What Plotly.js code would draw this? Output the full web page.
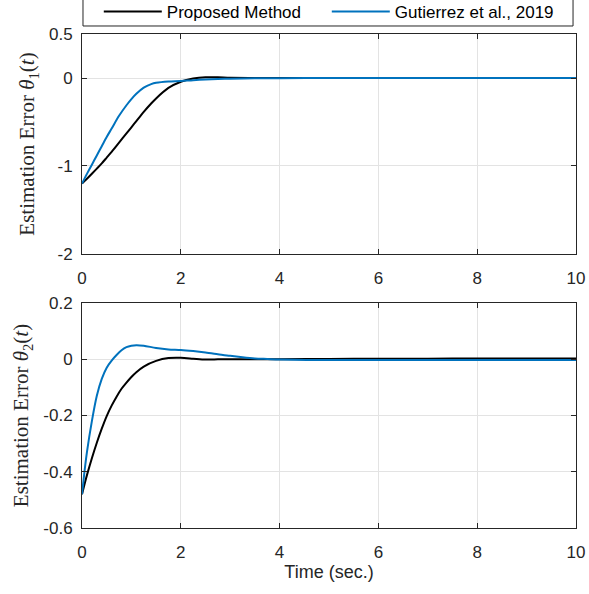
<!DOCTYPE html>
<html>
<head>
<meta charset="utf-8">
<script src="https://cdn.plot.ly/plotly-3.0.1.min.js"></script>
<style>html,body{margin:0;padding:0;background:#fff;}#chart{width:589px;height:594px;}</style>
</head>
<body>
<div id="chart"></div>
<script>
// ---- data ----
const seriesNames = ["Proposed Method", "Gutierrez et al., 2019"];
const t1 = [0,0.1,0.2,0.3,0.4,0.5,0.6,0.75,0.9,1.0,1.1,1.25,1.4,1.5,1.75,2.0,2.25,2.5,2.75,3.0,3.5,4,5,6,7,8,9,10];
const theta1Proposed = [-1.2,-1.145,-1.088,-1.03,-0.97,-0.905,-0.84,-0.735,-0.63,-0.56,-0.49,-0.385,-0.29,-0.232,-0.113,-0.042,-0.006,0.009,0.008,0.003,0.001,0,0,0,0,0,0,0.001];
const theta1Gutierrez = [-1.2,-1.09,-0.985,-0.88,-0.775,-0.67,-0.575,-0.43,-0.31,-0.24,-0.18,-0.11,-0.07,-0.055,-0.04,-0.035,-0.025,-0.018,-0.012,-0.008,-0.004,-0.002,0,0,0,0,0,0];
const t2 = [0,0.05,0.1,0.2,0.3,0.4,0.5,0.6,0.7,0.8,0.9,1.0,1.1,1.25,1.5,1.75,2.0,2.25,2.5,2.75,3.0,3.25,3.5,3.75,4,5,6,7,8,9,10];
const theta2Proposed = [-0.48,-0.445,-0.412,-0.352,-0.297,-0.247,-0.202,-0.165,-0.133,-0.105,-0.083,-0.063,-0.046,-0.026,-0.006,0.004,0.005,0.002,-0.001,-0.0005,0,0,0,0,0,0.001,0.002,0.002,0.003,0.003,0.003];
const theta2Gutierrez = [-0.48,-0.40,-0.33,-0.22,-0.13,-0.07,-0.03,-0.005,0.015,0.032,0.043,0.048,0.05,0.048,0.04,0.035,0.033,0.029,0.024,0.018,0.012,0.007,0.003,0.001,-0.001,-0.003,-0.003,-0.003,-0.003,-0.003,-0.003];
const xTicks = [0,2,4,6,8,10];
const y1Ticks = [-2,-1,0,0.5];
const y1TickText = ["-2","-1","0","0.5"];
const y2Ticks = [-0.6,-0.4,-0.2,0,0.2];
const y2TickText = ["-0.6","-0.4","-0.2","0","0.2"];
const colors = ["#000000", "#0072BD"];

// ---- traces ----
const lineStyle = (c) => ({color: c, width: 2, shape: "spline", smoothing: 0.8});
const traces = [
  {x: t1, y: theta1Proposed, name: seriesNames[0], xaxis: "x", yaxis: "y", mode: "lines", line: lineStyle(colors[0])},
  {x: t1, y: theta1Gutierrez, name: seriesNames[1], xaxis: "x", yaxis: "y", mode: "lines", line: lineStyle(colors[1])},
  {x: t2, y: theta2Proposed, name: seriesNames[0], xaxis: "x2", yaxis: "y2", mode: "lines", showlegend: false, line: lineStyle(colors[0])},
  {x: t2, y: theta2Gutierrez, name: seriesNames[1], xaxis: "x2", yaxis: "y2", mode: "lines", showlegend: false, line: lineStyle(colors[1])}
];

const tickFont = {family: "Liberation Sans, Arial, sans-serif", size: 17, color: "#262626"};
const axisCommon = {
  showline: true, linecolor: "#262626", linewidth: 1, mirror: "allticks",
  ticks: "inside", ticklen: 5, tickcolor: "#262626",
  showgrid: true, gridcolor: "#e3e3e3", gridwidth: 1,
  zeroline: false, tickfont: tickFont
};
const yTitleFont = {family: "Liberation Serif, Times New Roman, serif", size: 21, color: "#262626"};

const layout = {
  width: 589, height: 594,
  margin: {l: 82, r: 13, t: 34, b: 66, autoexpand: false},
  paper_bgcolor: "#ffffff", plot_bgcolor: "#ffffff",
  showlegend: true,
  legend: {
    orientation: "h", x: 0.034, xanchor: "left", y: 1.008, yanchor: "bottom",
    borderwidth: 0, bgcolor: "rgba(0,0,0,0)",
    font: {family: "Liberation Sans, Arial, sans-serif", size: 17, color: "#000000"},
    itemwidth: 58, entrywidth: 155, tracegroupgap: 0
  },
  shapes: [
    {type: "rect", xref: "paper", yref: "paper", x0: 0.002, x1: 0.994, y0: 1.0162, y1: 1.12,
     line: {color: "#262626", width: 1}, fillcolor: "rgba(0,0,0,0)", layer: "below"}
  ],
  xaxis: Object.assign({}, axisCommon, {domain: [0, 1], range: [0, 10], tickvals: xTicks, ticktext: xTicks.map(String), anchor: "y", ticklabelstandoff: 9}),
  yaxis: Object.assign({}, axisCommon, {domain: [0.5547, 1], range: [-2, 0.5], tickvals: y1Ticks, ticktext: y1TickText, anchor: "x", ticklabelstandoff: 5,
    title: {text: "Estimation Error <i>θ</i><sub>1</sub>(<i>t</i>)", font: yTitleFont, standoff: 8}}),
  xaxis2: Object.assign({}, axisCommon, {domain: [0, 1], range: [0, 10], tickvals: xTicks, ticktext: xTicks.map(String), anchor: "y2", ticklabelstandoff: 9,
    title: {text: "Time (sec.)", font: {family: "Liberation Sans, Arial, sans-serif", size: 18, color: "#262626"}, standoff: 1}}),
  yaxis2: Object.assign({}, axisCommon, {domain: [0, 0.4555], range: [-0.6, 0.2], tickvals: y2Ticks, ticktext: y2TickText, anchor: "x2", ticklabelstandoff: 5,
    title: {text: "Estimation Error <i>θ</i><sub>2</sub>(<i>t</i>)", font: yTitleFont, standoff: 8}})
};

Plotly.newPlot("chart", traces, layout, {displayModeBar: false, staticPlot: true});
</script>
</body>
</html>
